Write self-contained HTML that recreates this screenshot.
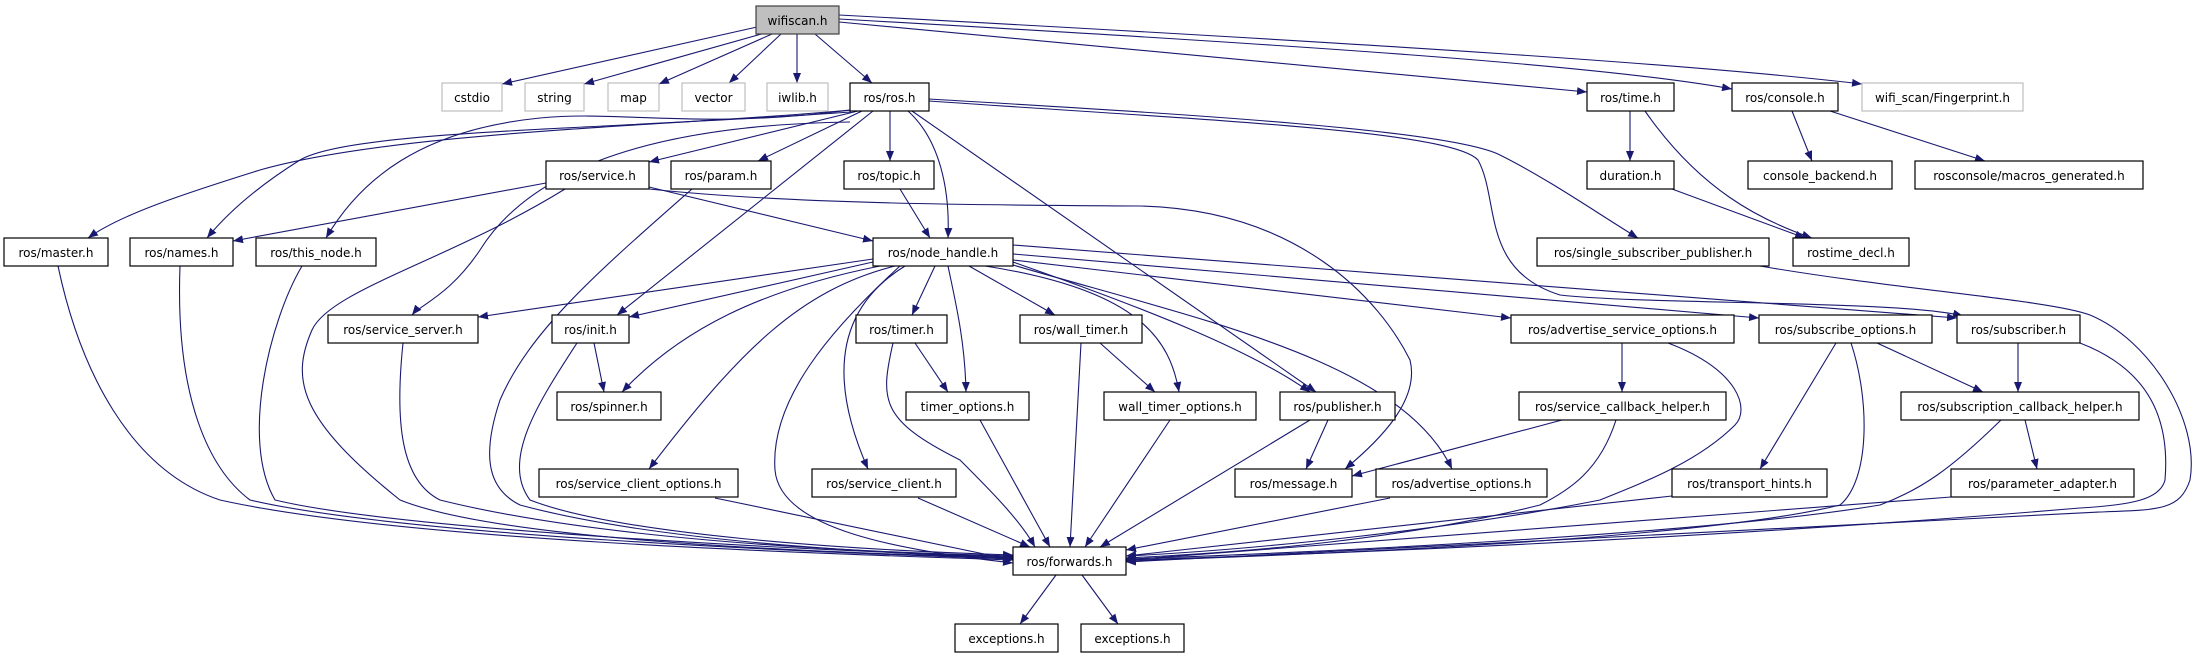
<!DOCTYPE html>
<html><head><meta charset="utf-8"><style>
html,body{margin:0;padding:0;background:#fff;}
svg{display:block}
text{font-family:"DejaVu Sans","Liberation Sans",sans-serif;font-size:12px;fill:#000;text-anchor:middle}
.n{fill:#fff;stroke:#000;stroke-width:1.2}
.g{fill:#fff;stroke:#bfbfbf;stroke-width:1.2}
.e path{fill:none;stroke:#191970;stroke-width:1.1}
</style></head><body>
<svg width="2202" height="659" viewBox="0 0 2202 659" xmlns="http://www.w3.org/2000/svg">
<defs><marker id="a" markerUnits="userSpaceOnUse" markerWidth="11" markerHeight="8" refX="10" refY="4" orient="auto"><path d="M0,0 L10,4 L0,8 z" fill="#191970"/></marker></defs>
<g class="e" marker-end="url(#a)">
<path marker-end="url(#a)" d="M757,27 L502,84"/>
<path marker-end="url(#a)" d="M765,33 L584,84"/>
<path marker-end="url(#a)" d="M772,34 L659,84"/>
<path marker-end="url(#a)" d="M781,34 L729,83"/>
<path marker-end="url(#a)" d="M797,34 L797,83"/>
<path marker-end="url(#a)" d="M815,34 L872,83"/>
<path marker-end="url(#a)" d="M839,22 L1587,92"/>
<path marker-end="url(#a)" d="M839,19 C1300,45 1600,65 1732,89"/>
<path marker-end="url(#a)" d="M839,15 C1400,45 1700,65 1862,84"/>
<path marker-end="url(#a)" d="M850,110 C700,125 400,130 260,170 C180,195 120,215 88,238"/>
<path marker-end="url(#a)" d="M851,112 C600,130 350,130 300,160 C260,185 230,210 207,238"/>
<path marker-end="url(#a)" d="M851,110 C700,130 620,110 540,118 C420,130 360,180 326,238"/>
<path marker-end="url(#a)" d="M858,111 L649,162"/>
<path marker-end="url(#a)" d="M862,111 L758,161"/>
<path marker-end="url(#a)" d="M890,111 L890,161"/>
<path marker-end="url(#a)" d="M908,111 C940,140 950,190 948,238"/>
<path marker-end="url(#a)" d="M850,122 C650,125 530,170 480,250 C450,295 420,305 412,315"/>
<path marker-end="url(#a)" d="M873,111 L617,315"/>
<path marker-end="url(#a)" d="M912,111 L1316,392"/>
<path marker-end="url(#a)" d="M929,99 C1200,115 1450,130 1500,155 C1550,180 1600,215 1638,238"/>
<path marker-end="url(#a)" d="M929,101 C1200,120 1450,130 1478,160 C1500,200 1480,270 1560,295 C1650,305 1900,300 1963,316"/>
<path marker-end="url(#a)" d="M546,183 L233,241"/>
<path marker-end="url(#a)" d="M649,187 L873,241"/>
<path marker-end="url(#a)" d="M565,189 C450,260 330,290 312,330 C290,380 300,420 400,500 C500,540 800,552 1013,558"/>
<path marker-end="url(#a)" d="M649,189 C800,205 1000,205 1140,206 C1300,210 1380,300 1410,360 C1420,400 1380,440 1345,469"/>
<path marker-end="url(#a)" d="M692,189 C600,270 530,330 500,400 C480,460 490,490 520,505 C650,540 850,552 1013,558"/>
<path marker-end="url(#a)" d="M900,189 L930,238"/>
<path marker-end="url(#a)" d="M1630,111 L1630,161"/>
<path marker-end="url(#a)" d="M1645,111 C1700,190 1760,220 1812,238"/>
<path marker-end="url(#a)" d="M1672,189 L1805,238"/>
<path marker-end="url(#a)" d="M1792,111 L1812,161"/>
<path marker-end="url(#a)" d="M1830,111 L1985,161"/>
<path marker-end="url(#a)" d="M58,266 C80,370 130,470 220,500 C400,540 800,553 1013,560"/>
<path marker-end="url(#a)" d="M180,266 C175,400 210,470 250,500 C400,535 800,552 1013,559"/>
<path marker-end="url(#a)" d="M302,266 C270,320 240,440 275,500 C400,530 800,550 1013,557"/>
<path marker-end="url(#a)" d="M873,259 L478,317"/>
<path marker-end="url(#a)" d="M873,262 L629,317"/>
<path marker-end="url(#a)" d="M880,266 C760,290 680,330 622,392"/>
<path marker-end="url(#a)" d="M895,266 C800,290 740,350 649,469"/>
<path marker-end="url(#a)" d="M900,266 C830,330 770,400 775,470 C780,530 900,550 1013,563"/>
<path marker-end="url(#a)" d="M905,266 C850,300 820,360 868,469"/>
<path marker-end="url(#a)" d="M935,266 L912,315"/>
<path marker-end="url(#a)" d="M948,266 C955,300 965,340 966,392"/>
<path marker-end="url(#a)" d="M969,266 L1055,315"/>
<path marker-end="url(#a)" d="M985,266 C1140,290 1170,340 1179,392"/>
<path marker-end="url(#a)" d="M1013,262 C1150,310 1250,350 1310,392"/>
<path marker-end="url(#a)" d="M1013,265 C1200,320 1400,360 1452,469"/>
<path marker-end="url(#a)" d="M1013,260 L1511,318"/>
<path marker-end="url(#a)" d="M1013,254 L1759,318"/>
<path marker-end="url(#a)" d="M1013,245 L1957,318"/>
<path marker-end="url(#a)" d="M1760,266 C1900,290 2050,300 2090,315 C2150,340 2200,420 2190,480 C2180,510 2160,510 2100,512 C1700,530 1300,555 1126,562"/>
<path marker-end="url(#a)" d="M2080,343 C2150,370 2170,420 2165,480 C2160,500 2130,505 2080,508 C1700,540 1300,555 1126,560"/>
<path marker-end="url(#a)" d="M403,343 C395,420 400,480 440,500 C600,540 850,552 1013,556"/>
<path marker-end="url(#a)" d="M577,343 C540,400 500,460 530,500 C620,535 850,550 1013,555"/>
<path marker-end="url(#a)" d="M594,343 L604,392"/>
<path marker-end="url(#a)" d="M893,343 C880,400 880,420 960,460 C990,490 1020,520 1035,547"/>
<path marker-end="url(#a)" d="M915,343 L948,392"/>
<path marker-end="url(#a)" d="M1081,343 L1070,547"/>
<path marker-end="url(#a)" d="M1100,343 L1155,392"/>
<path marker-end="url(#a)" d="M980,420 L1050,547"/>
<path marker-end="url(#a)" d="M1170,420 L1085,547"/>
<path marker-end="url(#a)" d="M1310,420 L1100,547"/>
<path marker-end="url(#a)" d="M1328,420 L1306,469"/>
<path marker-end="url(#a)" d="M715,498 L1013,560"/>
<path marker-end="url(#a)" d="M918,498 L1030,547"/>
<path marker-end="url(#a)" d="M1390,498 L1126,550"/>
<path marker-end="url(#a)" d="M1622,343 L1622,392"/>
<path marker-end="url(#a)" d="M1668,343 C1740,370 1750,410 1735,425 C1700,460 1650,480 1600,500 C1450,530 1250,550 1126,556"/>
<path marker-end="url(#a)" d="M1562,420 L1352,476"/>
<path marker-end="url(#a)" d="M1616,420 C1600,470 1570,490 1540,505 C1400,540 1250,552 1126,558"/>
<path marker-end="url(#a)" d="M1836,343 L1760,469"/>
<path marker-end="url(#a)" d="M1877,343 L1983,392"/>
<path marker-end="url(#a)" d="M1851,343 C1870,400 1870,480 1840,505 C1700,540 1300,555 1126,561"/>
<path marker-end="url(#a)" d="M2018,343 L2018,392"/>
<path marker-end="url(#a)" d="M2025,420 L2037,469"/>
<path marker-end="url(#a)" d="M2001,420 C1950,470 1920,490 1880,505 C1700,535 1300,553 1126,559"/>
<path marker-end="url(#a)" d="M1672,496 L1126,556"/>
<path marker-end="url(#a)" d="M1951,497 L1126,560"/>
<path marker-end="url(#a)" d="M1056,575 L1020,624"/>
<path marker-end="url(#a)" d="M1082,575 L1118,624"/>
</g>
<g>
<rect x="756" y="6" width="83" height="28" fill="#bfbfbf" stroke="#404040" stroke-width="1.2"/><text x="797.5" y="25">wifiscan.h</text>
<rect class="g" x="442" y="83" width="60" height="28"/><text x="472" y="102">cstdio</text>
<rect class="g" x="525" y="83" width="59" height="28"/><text x="554.5" y="102">string</text>
<rect class="g" x="608" y="83" width="51" height="28"/><text x="633.5" y="102">map</text>
<rect class="g" x="682" y="83" width="63" height="28"/><text x="713.5" y="102">vector</text>
<rect class="g" x="767" y="83" width="61" height="28"/><text x="797.5" y="102">iwlib.h</text>
<rect class="n" x="850" y="83" width="79" height="28"/><text x="889.5" y="102">ros/ros.h</text>
<rect class="n" x="1587" y="83" width="87" height="28"/><text x="1630.5" y="102">ros/time.h</text>
<rect class="n" x="1732" y="83" width="106" height="28"/><text x="1785" y="102">ros/console.h</text>
<rect class="g" x="1862" y="83" width="161" height="28"/><text x="1942.5" y="102">wifi_scan/Fingerprint.h</text>

<rect class="n" x="546" y="161" width="103" height="28"/><text x="597.5" y="180">ros/service.h</text>
<rect class="n" x="671" y="161" width="100" height="28"/><text x="721" y="180">ros/param.h</text>
<rect class="n" x="844" y="161" width="90" height="28"/><text x="889" y="180">ros/topic.h</text>
<rect class="n" x="1587" y="161" width="87" height="28"/><text x="1630.5" y="180">duration.h</text>
<rect class="n" x="1748" y="161" width="144" height="28"/><text x="1820" y="180">console_backend.h</text>
<rect class="n" x="1915" y="161" width="228" height="28"/><text x="2029" y="180">rosconsole/macros_generated.h</text>

<rect class="n" x="4" y="238" width="104" height="28"/><text x="56" y="257">ros/master.h</text>
<rect class="n" x="130" y="238" width="103" height="28"/><text x="181.5" y="257">ros/names.h</text>
<rect class="n" x="256" y="238" width="120" height="28"/><text x="316" y="257">ros/this_node.h</text>
<rect class="n" x="873" y="238" width="140" height="28"/><text x="943" y="257">ros/node_handle.h</text>
<rect class="n" x="1537" y="238" width="232" height="28"/><text x="1653" y="257">ros/single_subscriber_publisher.h</text>
<rect class="n" x="1793" y="238" width="116" height="28"/><text x="1851" y="257">rostime_decl.h</text>

<rect class="n" x="328" y="315" width="150" height="28"/><text x="403" y="334">ros/service_server.h</text>
<rect class="n" x="552" y="315" width="77" height="28"/><text x="590.5" y="334">ros/init.h</text>
<rect class="n" x="856" y="315" width="91" height="28"/><text x="901.5" y="334">ros/timer.h</text>
<rect class="n" x="1020" y="315" width="122" height="28"/><text x="1081" y="334">ros/wall_timer.h</text>
<rect class="n" x="1511" y="315" width="223" height="28"/><text x="1622.5" y="334">ros/advertise_service_options.h</text>
<rect class="n" x="1759" y="315" width="173" height="28"/><text x="1845.5" y="334">ros/subscribe_options.h</text>
<rect class="n" x="1957" y="315" width="123" height="28"/><text x="2018.5" y="334">ros/subscriber.h</text>

<rect class="n" x="557" y="392" width="104" height="28"/><text x="609" y="411">ros/spinner.h</text>
<rect class="n" x="906" y="392" width="123" height="28"/><text x="967.5" y="411">timer_options.h</text>
<rect class="n" x="1104" y="392" width="152" height="28"/><text x="1180" y="411">wall_timer_options.h</text>
<rect class="n" x="1280" y="392" width="115" height="28"/><text x="1337.5" y="411">ros/publisher.h</text>
<rect class="n" x="1519" y="392" width="207" height="28"/><text x="1622.5" y="411">ros/service_callback_helper.h</text>
<rect class="n" x="1901" y="392" width="238" height="28"/><text x="2020" y="411">ros/subscription_callback_helper.h</text>

<rect class="n" x="539" y="469" width="199" height="28"/><text x="638.5" y="488">ros/service_client_options.h</text>
<rect class="n" x="812" y="469" width="144" height="28"/><text x="884" y="488">ros/service_client.h</text>
<rect class="n" x="1235" y="469" width="117" height="28"/><text x="1293.5" y="488">ros/message.h</text>
<rect class="n" x="1376" y="469" width="171" height="28"/><text x="1461.5" y="488">ros/advertise_options.h</text>
<rect class="n" x="1672" y="469" width="155" height="28"/><text x="1749.5" y="488">ros/transport_hints.h</text>
<rect class="n" x="1951" y="469" width="183" height="28"/><text x="2042.5" y="488">ros/parameter_adapter.h</text>

<rect class="n" x="1013" y="547" width="113" height="28"/><text x="1069.5" y="566">ros/forwards.h</text>
<rect class="n" x="955" y="624" width="103" height="28"/><text x="1006.5" y="643">exceptions.h</text>
<rect class="n" x="1081" y="624" width="103" height="28"/><text x="1132.5" y="643">exceptions.h</text>
</g>
</svg>
</body></html>
